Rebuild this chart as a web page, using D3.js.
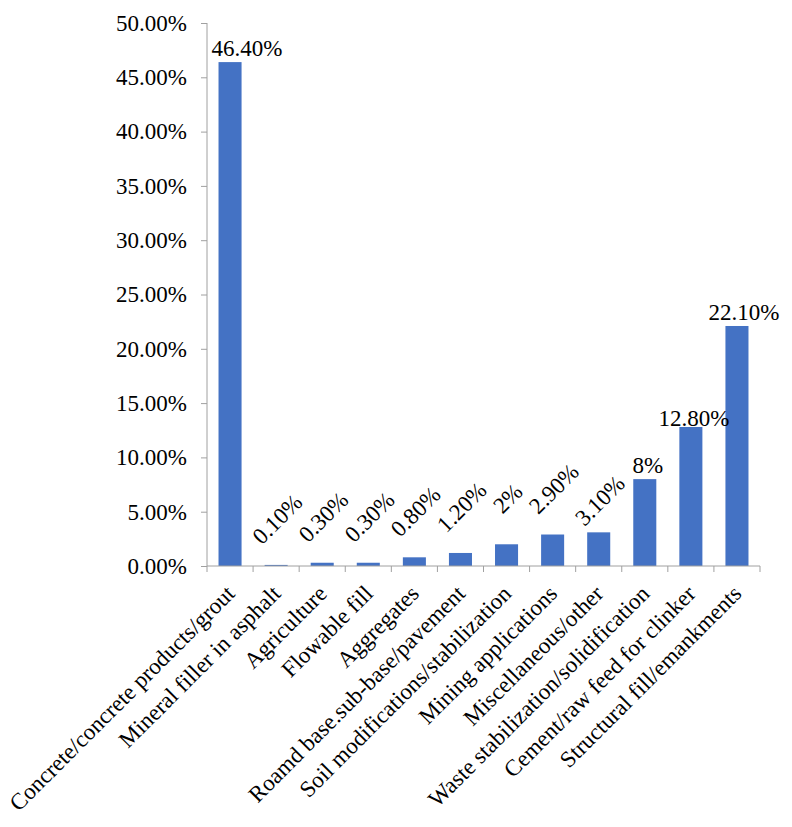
<!DOCTYPE html>
<html>
<head>
<meta charset="utf-8">
<script src="https://cdn.jsdelivr.net/npm/d3@7"></script>
<style>
  body { margin: 0; background: #fff; }
  text { font-family: "Liberation Serif", "Times New Roman", serif; fill: #000; }
</style>
</head>
<body>
<div id="root"></div>
<script>
// categories and values
var categories = [
  'Concrete/concrete products/grout',
  'Mineral filler in asphalt',
  'Agriculture',
  'Flowable fill',
  'Aggregates',
  'Roamd base.sub-base/pavement',
  'Soil modifications/stabilization',
  'Mining applications',
  'Miscellaneous/other',
  'Waste stabilization/solidification',
  'Cement/raw feed for clinker',
  'Structural fill/emankments'
];
var values = [46.4, 0.1, 0.3, 0.3, 0.8, 1.2, 2, 2.9, 3.1, 8, 12.8, 22.1];
var valueLabels = ['46.40%', '0.10%', '0.30%', '0.30%', '0.80%', '1.20%', '2%', '2.90%', '3.10%', '8%', '12.80%', '22.10%'];
var yTicks = [0, 5, 10, 15, 20, 25, 30, 35, 40, 45, 50];

function chart() {
  var width = 792;
  var height = 827;
  var left = 207, right = 760, top = 23, bottom = 566;
  var axisColor = '#a0a0a0';
  var barColor = '#4472C4';
  var fontSize = '23px';

  var svg = d3.select('#root')
    .append('svg')
      .attr('width', width)
      .attr('height', height);

  var x = d3.scaleBand()
    .domain(categories)
    .range([left, right])
    .paddingInner(0.5)
    .paddingOuter(0.25);

  var y = d3.scaleLinear()
    .domain([0, 50])
    .range([bottom, top]);

  // y axis
  var yAxis = svg.append('g')
    .attr('transform', 'translate(' + left + ',0)')
    .call(d3.axisLeft(y)
      .tickValues(yTicks)
      .tickSize(6)
      .tickPadding(14)
      .tickFormat(function(d) { return d.toFixed(2) + '%'; }));
  yAxis.selectAll('text').style('font-size', fontSize);
  yAxis.selectAll('line, path').attr('stroke', axisColor);
  yAxis.select('.domain').attr('d', 'M0,' + bottom + 'V' + top);

  // bars
  svg.selectAll('rect.bar')
    .data(values)
    .enter()
    .append('rect')
      .attr('class', 'bar')
      .attr('x', function(d, i) { return x(categories[i]); })
      .attr('y', function(d) { return y(d); })
      .attr('width', x.bandwidth())
      .attr('height', function(d) { return bottom - y(d); })
      .style('fill', barColor);

  // x axis line and ticks at category boundaries
  var step = x.step();
  var xg = svg.append('g');
  xg.append('line')
    .attr('x1', left).attr('x2', right)
    .attr('y1', bottom).attr('y2', bottom)
    .attr('stroke', axisColor);
  xg.selectAll('line.tick')
    .data(d3.range(categories.length + 1))
    .enter()
    .append('line')
      .attr('class', 'tick')
      .attr('x1', function(i) { return left + i * step; })
      .attr('x2', function(i) { return left + i * step; })
      .attr('y1', bottom)
      .attr('y2', bottom + 6)
      .attr('stroke', axisColor);

  // category labels, rotated
  xg.selectAll('text.cat')
    .data(categories)
    .enter()
    .append('text')
      .attr('class', 'cat')
      .attr('text-anchor', 'end')
      .style('font-size', fontSize)
      .attr('transform', function(d) {
        var cx = x(d) + x.bandwidth() / 2 + 6;
        return 'translate(' + cx + ',' + (bottom + 29) + ') rotate(-45)';
      })
      .text(function(d) { return d; });

  // value labels: small ones are rotated, bigger ones flat
  svg.selectAll('text.val')
    .data(values)
    .enter()
    .append('text')
      .attr('class', 'val')
      .style('font-size', fontSize)
      .attr('text-anchor', 'middle')
      .attr('transform', function(d, i) {
        var cx = x(categories[i]) + x.bandwidth() / 2;
        if (d < 5) {
          var up = i === 8 ? 32 : 46;
          return 'translate(' + (cx + 1) + ',' + (y(d) - up) + ') rotate(-45)';
        }
        var nudge = i === 0 ? 17 : (i === 11 ? 7 : 3);
        var lift = i === 10 ? 1 : 6;
        return 'translate(' + (cx + nudge) + ',' + (y(d) - lift) + ')';
      })
      .attr('dy', function(d) { return d < 5 ? '0.35em' : 0; })
      .text(function(d, i) { return valueLabels[i]; });
}

chart();
</script>
</body>
</html>
